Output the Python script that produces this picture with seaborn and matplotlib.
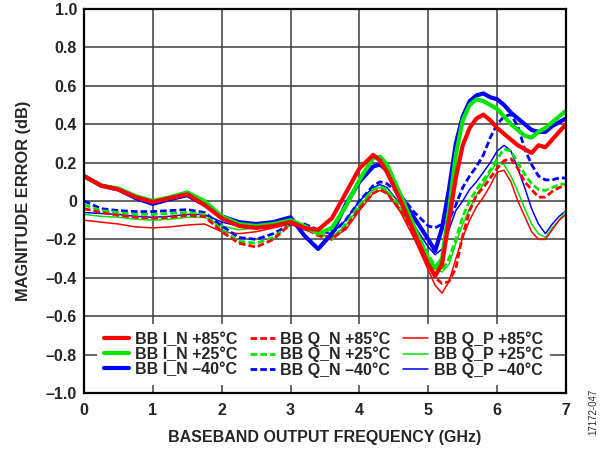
import matplotlib
matplotlib.use("Agg")
import matplotlib.pyplot as plt
import seaborn as sns
import pandas as pd

freq = [0.0, 0.25, 0.5, 0.75, 1.0, 1.25, 1.5, 1.75, 2.0, 2.25, 2.5, 2.75,
        3.0, 3.2, 3.4, 3.6, 3.8, 4.0, 4.2, 4.3, 4.4, 4.6, 4.8,
        5.0, 5.1, 5.2, 5.3, 5.4, 5.5, 5.6, 5.7, 5.8, 5.9,
        6.0, 6.1, 6.2, 6.3, 6.4, 6.5, 6.6, 6.7, 6.8, 6.9, 7.0]

in85 = [0.13, 0.08, 0.06, 0.02, -0.005, 0.015, 0.035, -0.02,
        -0.09, -0.13, -0.14, -0.13,
        -0.11, -0.14, -0.15, -0.09, 0.04,
        0.17, 0.24, 0.21, 0.15, 0.0, -0.17,
        -0.33, -0.39, -0.33, -0.10, 0.12, 0.29, 0.38, 0.43, 0.45, 0.42,
        0.38, 0.35, 0.32, 0.29, 0.27, 0.25, 0.29, 0.28, 0.32, 0.36,
        0.40]
in25 = [0.13, 0.08, 0.065, 0.025, 0.0, 0.02, 0.045, 0.0,
        -0.08, -0.12, -0.13, -0.12,
        -0.10, -0.13, -0.17, -0.14, -0.03,
        0.11, 0.225, 0.23, 0.19, 0.03, -0.14,
        -0.30, -0.35, -0.30, -0.05, 0.24, 0.42, 0.50, 0.53, 0.52, 0.50,
        0.48, 0.44, 0.40, 0.37, 0.34, 0.33, 0.36, 0.38, 0.41, 0.44,
        0.47]
in40 = [0.13, 0.08, 0.06, 0.015, -0.015, 0.01, 0.03, -0.02,
        -0.08, -0.11, -0.12, -0.11,
        -0.085, -0.18, -0.25, -0.17, -0.02,
        0.10, 0.18, 0.19, 0.16, 0.02, -0.09,
        -0.20, -0.26, -0.14, 0.06, 0.30, 0.44, 0.52, 0.55, 0.56, 0.54,
        0.53, 0.50, 0.46, 0.43, 0.40, 0.37, 0.36, 0.36, 0.39, 0.41,
        0.43]
qn85 = [-0.04, -0.06, -0.075, -0.085, -0.09, -0.085, -0.075, -0.08,
        -0.16, -0.22, -0.24, -0.20,
        -0.12, -0.14, -0.18, -0.20, -0.14,
        -0.04, 0.04, 0.06, 0.04, -0.05, -0.18,
        -0.33, -0.40, -0.43, -0.42, -0.35, -0.18, -0.05, 0.03, 0.07, 0.12,
        0.17, 0.21, 0.22, 0.17, 0.10, 0.06, 0.02, 0.02, 0.05, 0.07,
        0.08]
qn25 = [-0.02, -0.05, -0.06, -0.07, -0.07, -0.065, -0.06, -0.07,
        -0.15, -0.21, -0.22, -0.19,
        -0.12, -0.13, -0.17, -0.20, -0.12,
        -0.02, 0.06, 0.075, 0.06, -0.03, -0.15,
        -0.28, -0.34, -0.36, -0.30, -0.20, -0.08, 0.0, 0.06, 0.11, 0.16,
        0.22, 0.27, 0.26, 0.20, 0.14, 0.09, 0.06, 0.055, 0.07, 0.085,
        0.09]
qn40 = [0.0, -0.04, -0.05, -0.055, -0.055, -0.05, -0.045, -0.06,
        -0.13, -0.19, -0.20, -0.17,
        -0.12, -0.12, -0.15, -0.17, -0.10,
        0.0, 0.08, 0.10, 0.09, 0.03, -0.06,
        -0.13, -0.14, -0.12, -0.10, -0.02, 0.07, 0.13, 0.18, 0.24, 0.33,
        0.40, 0.44, 0.45, 0.39, 0.27, 0.19, 0.13, 0.11, 0.11, 0.12,
        0.12]
qp85 = [-0.10, -0.11, -0.12, -0.135, -0.14, -0.135, -0.125, -0.12,
        -0.16, -0.17, -0.16, -0.14,
        -0.12, -0.15, -0.17, -0.19, -0.15,
        -0.05, 0.04, 0.055, 0.04, -0.06, -0.20,
        -0.36, -0.44, -0.48, -0.42, -0.30, -0.19, -0.10, -0.03, 0.02, 0.08,
        0.15, 0.16, 0.10, 0.0, -0.08, -0.16, -0.20, -0.20, -0.15, -0.10,
        -0.07]
qp25 = [-0.07, -0.08, -0.085, -0.095, -0.10, -0.095, -0.085, -0.085,
        -0.13, -0.15, -0.14, -0.13,
        -0.11, -0.14, -0.17, -0.19, -0.13,
        -0.03, 0.06, 0.07, 0.05, -0.05, -0.17,
        -0.30, -0.35, -0.37, -0.33, -0.22, -0.12, -0.04, 0.03, 0.09, 0.15,
        0.20, 0.19, 0.13, 0.05, -0.04, -0.12, -0.17, -0.19, -0.14, -0.10,
        -0.05]
qp40 = [-0.06, -0.065, -0.07, -0.08, -0.085, -0.08, -0.07, -0.07,
        -0.11, -0.13, -0.12, -0.11,
        -0.10, -0.13, -0.16, -0.17, -0.10,
        0.0, 0.07, 0.085, 0.07, -0.02, -0.13,
        -0.24, -0.28, -0.25, -0.15, -0.05, 0.0, 0.06, 0.10, 0.15, 0.20,
        0.26, 0.29, 0.26, 0.17, 0.07, -0.04, -0.12, -0.17, -0.12, -0.08,
        -0.05]

labels = ["BB I_N +85°C", "BB I_N +25°C", "BB I_N \u201340°C",
          "BB Q_N +85°C", "BB Q_N +25°C", "BB Q_N \u201340°C",
          "BB Q_P +85°C", "BB Q_P +25°C", "BB Q_P \u201340°C"]
series = [in85, in25, in40, qn85, qn25, qn40, qp85, qp25, qp40]

yticks = [1.0, 0.8, 0.6, 0.4, 0.2, 0.0, -0.2, -0.4, -0.6, -0.8, -1.0]
yticklabels = ["1.0", "0.8", "0.6", "0.4", "0.2", "0",
               "\u20130.2", "\u20130.4", "\u20130.6", "\u20130.8", "\u20131.0"]
xticks = [0, 1, 2, 3, 4, 5, 6, 7]

sns.set_style("white")
plt.rcParams['font.family'] = ['Liberation Sans', 'DejaVu Sans']
plt.rcParams['font.weight'] = 'bold'

colors = ["#FF0000", "#00E600", "#0000FF"]
styles = {
    "I": dict(lw=3.0, ls="-"),
    "Q_N": dict(lw=2.0, ls=(0, (2.4, 1.1))),
    "Q_P": dict(lw=1.1, ls="-"),
}
kinds = ["I", "I", "I", "Q_N", "Q_N", "Q_N", "Q_P", "Q_P", "Q_P"]

fig = plt.figure(figsize=(6.1, 4.5), dpi=100)
ax = fig.add_axes([0.1377, 0.1267, 0.7902, 0.8533])

order = [8, 7, 6, 5, 4, 3, 2, 1, 0]
for i in order:
    df = pd.DataFrame({"f": freq, "v": series[i]})
    st = styles[kinds[i]]
    sns.lineplot(data=df, x="f", y="v", ax=ax, color=colors[i % 3],
                 lw=st["lw"], linestyle=st["ls"], label=labels[i],
                 estimator=None, sort=False, legend=False)

ax.set_xlim(0, 7)
ax.set_ylim(-1, 1)
ax.set_xticks(xticks)
ax.set_xticklabels([str(x) for x in xticks], fontsize=11.5, fontweight='bold')
ax.set_yticks(yticks)
ax.set_yticklabels(yticklabels, fontsize=11.5, fontweight='bold')
ax.grid(True, color="#3c3c3c", lw=1.1)
ax.tick_params(direction="in", length=5, width=1.1, color="#3c3c3c", pad=5)
ax.tick_params(axis="x", pad=7)
for s in ax.spines.values():
    s.set_color("black")
    s.set_linewidth(1.6)
    s.set_visible(True)
ax.set_xlabel("BASEBAND OUTPUT FREQUENCY (GHz)", fontsize=11.5, fontweight='bold', labelpad=9)
ax.set_ylabel("MAGNITUDE ERROR (dB)", fontsize=11.8, fontweight='bold', labelpad=11)

handles = {l.get_label(): l for l in ax.get_lines()}
hl = [handles[lb] for lb in labels]
leg = ax.legend(hl, labels, ncol=3, loc="lower center", bbox_to_anchor=(0.497, 0.008),
                fontsize=11.5, frameon=True, facecolor="white", edgecolor="none",
                framealpha=1, fancybox=False, handlelength=1.55, handletextpad=0.35,
                columnspacing=0.8, labelspacing=0.0, borderpad=0.45, borderaxespad=0.3)
for t in leg.get_texts():
    t.set_fontweight('bold')
leg.set_zorder(5)

fig.text(0.972, 0.0325, "17172-047", rotation=90, fontsize=7, fontweight='normal',
         ha="center", va="bottom", color="#333333")

fig.savefig("out.png", dpi=100)
